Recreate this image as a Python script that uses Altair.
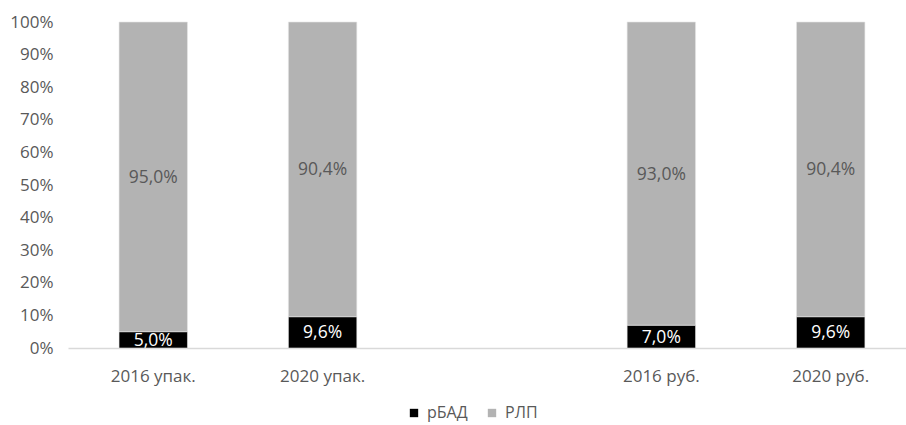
import altair as alt
import pandas as pd

categories = ["2016 упак.", "2020 упак.", "2016 руб.", "2020 руб."]
x_domain = ["2016 упак.", "2020 упак.", " ", "2016 руб.", "2020 руб."]
series = ["рБАД", "РЛП"]
rbad = [5.0, 9.6, 7.0, 9.6]
rlp = [95.0, 90.4, 93.0, 90.4]
y_ticks = [0, 0.1, 0.2, 0.3, 0.4, 0.5, 0.6, 0.7, 0.8, 0.9, 1.0]

rows = []
for i, c in enumerate(categories):
    for k, (s, vals) in enumerate(zip(series, [rbad, rlp])):
        v = vals[i]
        rows.append({
            "cat": c, "series": s, "value": v / 100.0, "order": k,
            "label": f"{v:.1f}%".replace(".", ","),
        })
df = pd.DataFrame(rows)

FONT = "Open Sans"
GRAY_TEXT = "#595959"

y_axis = alt.Axis(title=None, format=".0%", values=y_ticks, grid=False, ticks=False,
                  domain=False, labelColor=GRAY_TEXT, labelFontSize=17,
                  labelFont=FONT, labelPadding=15, labelOverlap=False, tickCount=11)

base = alt.Chart(df).encode(
    x=alt.X("cat:N", scale=alt.Scale(domain=x_domain, paddingInner=0.596, paddingOuter=0.272,
                                     align=0.554),
            sort=x_domain,
            axis=alt.Axis(title=None, labelAngle=0, ticks=False, domainColor="#d9d9d9",
                          domainWidth=1.5, labelColor=GRAY_TEXT, labelFontSize=17,
                          labelFont=FONT, labelPadding=20)),
    y=alt.Y("value:Q", stack="zero", scale=alt.Scale(domain=[0, 1], nice=False), axis=y_axis),
    order=alt.Order("order:Q", sort="ascending"),
)

bars = base.mark_bar(stroke="#e6e6e6", strokeWidth=0.6).encode(
    color=alt.Color("series:N", scale=alt.Scale(domain=series, range=["#000000", "#b3b3b3"]),
                    legend=alt.Legend(title=None, orient="none", direction="horizontal",
                                      legendX=338, legendY=383, symbolType="square",
                                      symbolSize=70, symbolStrokeWidth=0,
                                      labelFont=FONT, labelFontSize=16,
                                      labelColor=GRAY_TEXT, columnPadding=16,
                                      labelOffset=5)),
)

text = base.mark_text(font=FONT, fontSize=17.5, baseline="middle", dy=1).encode(
    y=alt.Y("value:Q", stack="zero", bandPosition=0.5,
            scale=alt.Scale(domain=[0, 1], nice=False), axis=y_axis),
    text="label:N",
    color=alt.Color("series:N", scale=alt.Scale(domain=series, range=["#ffffff", "#595959"]),
                    legend=None),
)

chart = alt.layer(bars, text).resolve_scale(color="independent").properties(
    width=838, height=326,
    background="white",
    autosize=alt.AutoSizeParams(type="none"),
    padding={"left": 68, "top": 22, "right": 0, "bottom": 77},
).configure_view(strokeWidth=0, stroke=None)

chart.save("out.html", embed_options={"renderer": "svg", "actions": False})
